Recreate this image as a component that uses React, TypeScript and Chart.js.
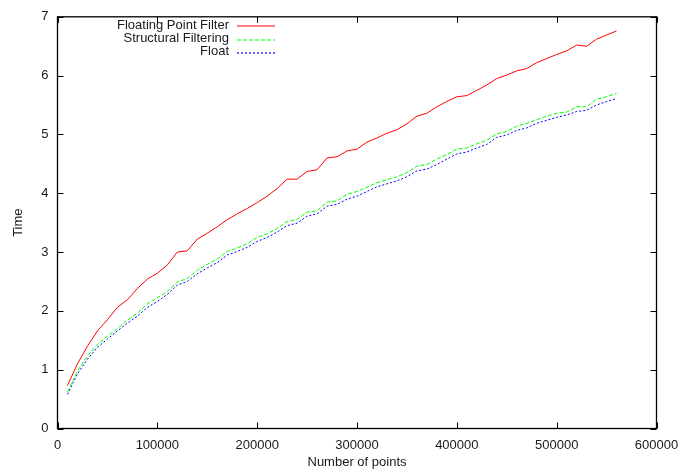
import React, { useEffect, useRef } from "react";
import { Chart, registerables } from "chart.js";

Chart.register(...registerables);

// Problem sizes (number of points)
const pointCounts: number[] = [
  10000, 20000, 30000, 40000, 50000, 60000, 70000, 80000, 90000, 100000,
  110000, 120000, 130000, 140000, 150000, 160000, 170000, 180000, 190000, 200000,
  210000, 220000, 230000, 240000, 250000, 260000, 270000, 280000, 290000, 300000,
  310000, 320000, 330000, 340000, 350000, 360000, 370000, 380000, 390000, 400000,
  410000, 420000, 430000, 440000, 450000, 460000, 470000, 480000, 490000, 500000,
  510000, 520000, 530000, 540000, 550000, 560000,
];

const floatingPointFilter: number[] = [
  0.73, 1.10, 1.40, 1.66, 1.85, 2.06, 2.19, 2.38, 2.54, 2.64,
  2.78, 3.00, 3.02, 3.22, 3.32, 3.43, 3.55, 3.65, 3.74, 3.84,
  3.95, 4.08, 4.24, 4.24, 4.37, 4.40, 4.60, 4.62, 4.72, 4.75,
  4.87, 4.94, 5.02, 5.08, 5.18, 5.31, 5.36, 5.47, 5.56, 5.64,
  5.66, 5.75, 5.84, 5.95, 6.01, 6.08, 6.12, 6.22, 6.29, 6.36,
  6.42, 6.52, 6.50, 6.62, 6.69, 6.76,
];

const structuralFiltering: number[] = [
  0.62, 0.98, 1.23, 1.43, 1.57, 1.70, 1.84, 1.96, 2.12, 2.22,
  2.33, 2.49, 2.55, 2.69, 2.79, 2.88, 3.01, 3.07, 3.14, 3.25,
  3.31, 3.40, 3.52, 3.55, 3.68, 3.70, 3.85, 3.87, 3.98, 4.03,
  4.10, 4.18, 4.23, 4.28, 4.35, 4.46, 4.49, 4.58, 4.66, 4.75,
  4.77, 4.84, 4.90, 5.01, 5.05, 5.14, 5.19, 5.25, 5.31, 5.36,
  5.38, 5.47, 5.47, 5.60, 5.64, 5.70,
];

const floatOnly: number[] = [
  0.58, 0.93, 1.18, 1.38, 1.52, 1.66, 1.79, 1.91, 2.06, 2.16,
  2.28, 2.44, 2.50, 2.63, 2.73, 2.82, 2.95, 3.01, 3.08, 3.18,
  3.25, 3.34, 3.45, 3.49, 3.61, 3.65, 3.78, 3.81, 3.90, 3.95,
  4.03, 4.11, 4.16, 4.21, 4.28, 4.38, 4.41, 4.49, 4.58, 4.67,
  4.70, 4.77, 4.83, 4.95, 4.99, 5.07, 5.11, 5.19, 5.24, 5.29,
  5.33, 5.39, 5.41, 5.50, 5.56, 5.61,
];

const seriesNames: string[] = ["Floating Point Filter", "Structural Filtering", "Float"];
const seriesColors: string[] = ["#ff0000", "#00ff00", "#0000ff"];
const seriesDashes: number[][] = [[], [4, 2], [2, 2]];

const FONT = "'Liberation Sans', Arial, Helvetica, sans-serif";
const FONT_SIZE = 13;
const TEXT = "#1a1a1a";

const toPoints = (ys: number[]) => pointCounts.map((x, i) => ({ x, y: ys[i] }));

// Frame with inward tick marks on all four sides, gnuplot style
const framePlugin = {
  id: "frame",
  afterDraw(chart: any) {
    const { ctx, chartArea } = chart;
    const { left, right, top, bottom } = chartArea;
    const xs = chart.scales.x;
    const ys = chart.scales.y;
    const len = 6;
    ctx.save();
    ctx.strokeStyle = "#000";
    ctx.lineWidth = 1;
    ctx.beginPath();
    xs.ticks.forEach((t: any) => {
      const px = Math.round(xs.getPixelForValue(t.value)) + 0.5;
      ctx.moveTo(px, bottom);
      ctx.lineTo(px, bottom - len);
      ctx.moveTo(px, top);
      ctx.lineTo(px, top + len);
    });
    ys.ticks.forEach((t: any) => {
      const py = Math.round(ys.getPixelForValue(t.value)) + 0.5;
      ctx.moveTo(left, py);
      ctx.lineTo(left + len, py);
      ctx.moveTo(right, py);
      ctx.lineTo(right - len, py);
    });
    ctx.stroke();
    ctx.lineWidth = 1.3;
    ctx.strokeRect(left, top, right - left, bottom - top);
    ctx.restore();
  },
};

// Key in the upper left: right-aligned names followed by a line sample
const keyPlugin = {
  id: "key",
  afterDraw(chart: any) {
    const { ctx } = chart;
    const textRight = 229;
    const lineStart = 237;
    const lineEnd = 275;
    const rowY = [25, 38.5, 51.5];
    ctx.save();
    ctx.font = `${FONT_SIZE}px ${FONT}`;
    ctx.textAlign = "right";
    ctx.textBaseline = "middle";
    seriesNames.forEach((name, i) => {
      ctx.fillStyle = TEXT;
      ctx.fillText(name, textRight, rowY[i]);
      ctx.strokeStyle = seriesColors[i];
      ctx.lineWidth = 1.2;
      ctx.setLineDash(seriesDashes[i]);
      ctx.beginPath();
      ctx.moveTo(lineStart, Math.round(rowY[i]) + 1);
      ctx.lineTo(lineEnd, Math.round(rowY[i]) + 1);
      ctx.stroke();
    });
    ctx.restore();
  },
};

export default function App() {
  const canvasRef = useRef<HTMLCanvasElement | null>(null);

  useEffect(() => {
    if (!canvasRef.current) return;
    const series = [floatingPointFilter, structuralFiltering, floatOnly];
    const chart = new Chart(canvasRef.current, {
      type: "line",
      data: {
        datasets: series.map((ys, i) => ({
          label: seriesNames[i],
          data: toPoints(ys),
          borderColor: seriesColors[i],
          borderWidth: 1,
          borderDash: seriesDashes[i],
          pointRadius: 0,
          fill: false,
          tension: 0,
        })),
      },
      options: {
        animation: false,
        responsive: false,
        layout: { padding: { left: 0, right: 36.5, top: 12.5, bottom: 0 } },
        plugins: {
          legend: { display: false },
          tooltip: { enabled: false },
        },
        scales: {
          x: {
            type: "linear",
            min: 0,
            max: 600000,
            afterFit: (s: any) => {
              s.height = 41.5;
            },
            grid: { display: true, drawOnChartArea: false, drawTicks: false },
            border: { display: false },
            ticks: {
              stepSize: 100000,
              padding: 9.5,
              maxRotation: 0,
              autoSkip: false,
              color: TEXT,
              font: { family: FONT, size: FONT_SIZE },
              callback: (v: any) => String(v),
            },
            title: {
              display: true,
              text: "Number of points",
              color: TEXT,
              font: { family: FONT, size: FONT_SIZE },
              padding: { top: 0, bottom: 0 },
            },
          },
          y: {
            min: 0,
            max: 7,
            afterFit: (s: any) => {
              s.width = 57.5;
            },
            grid: { display: true, drawOnChartArea: false, drawTicks: false },
            border: { display: false },
            ticks: {
              stepSize: 1,
              padding: 9,
              color: TEXT,
              font: { family: FONT, size: FONT_SIZE },
              callback: (v: any) => String(v),
            },
            title: {
              display: true,
              text: "Time",
              color: TEXT,
              font: { family: FONT, size: FONT_SIZE },
              padding: { top: 11, bottom: 0 },
            },
          },
        },
      },
      plugins: [framePlugin, keyPlugin],
    });
    return () => chart.destroy();
  }, []);

  return (
    <div style={{ position: "fixed", left: 0, top: 0, width: 693, height: 470, background: "#fff" }}>
      <canvas ref={canvasRef} width={693} height={470} />
    </div>
  );
}
